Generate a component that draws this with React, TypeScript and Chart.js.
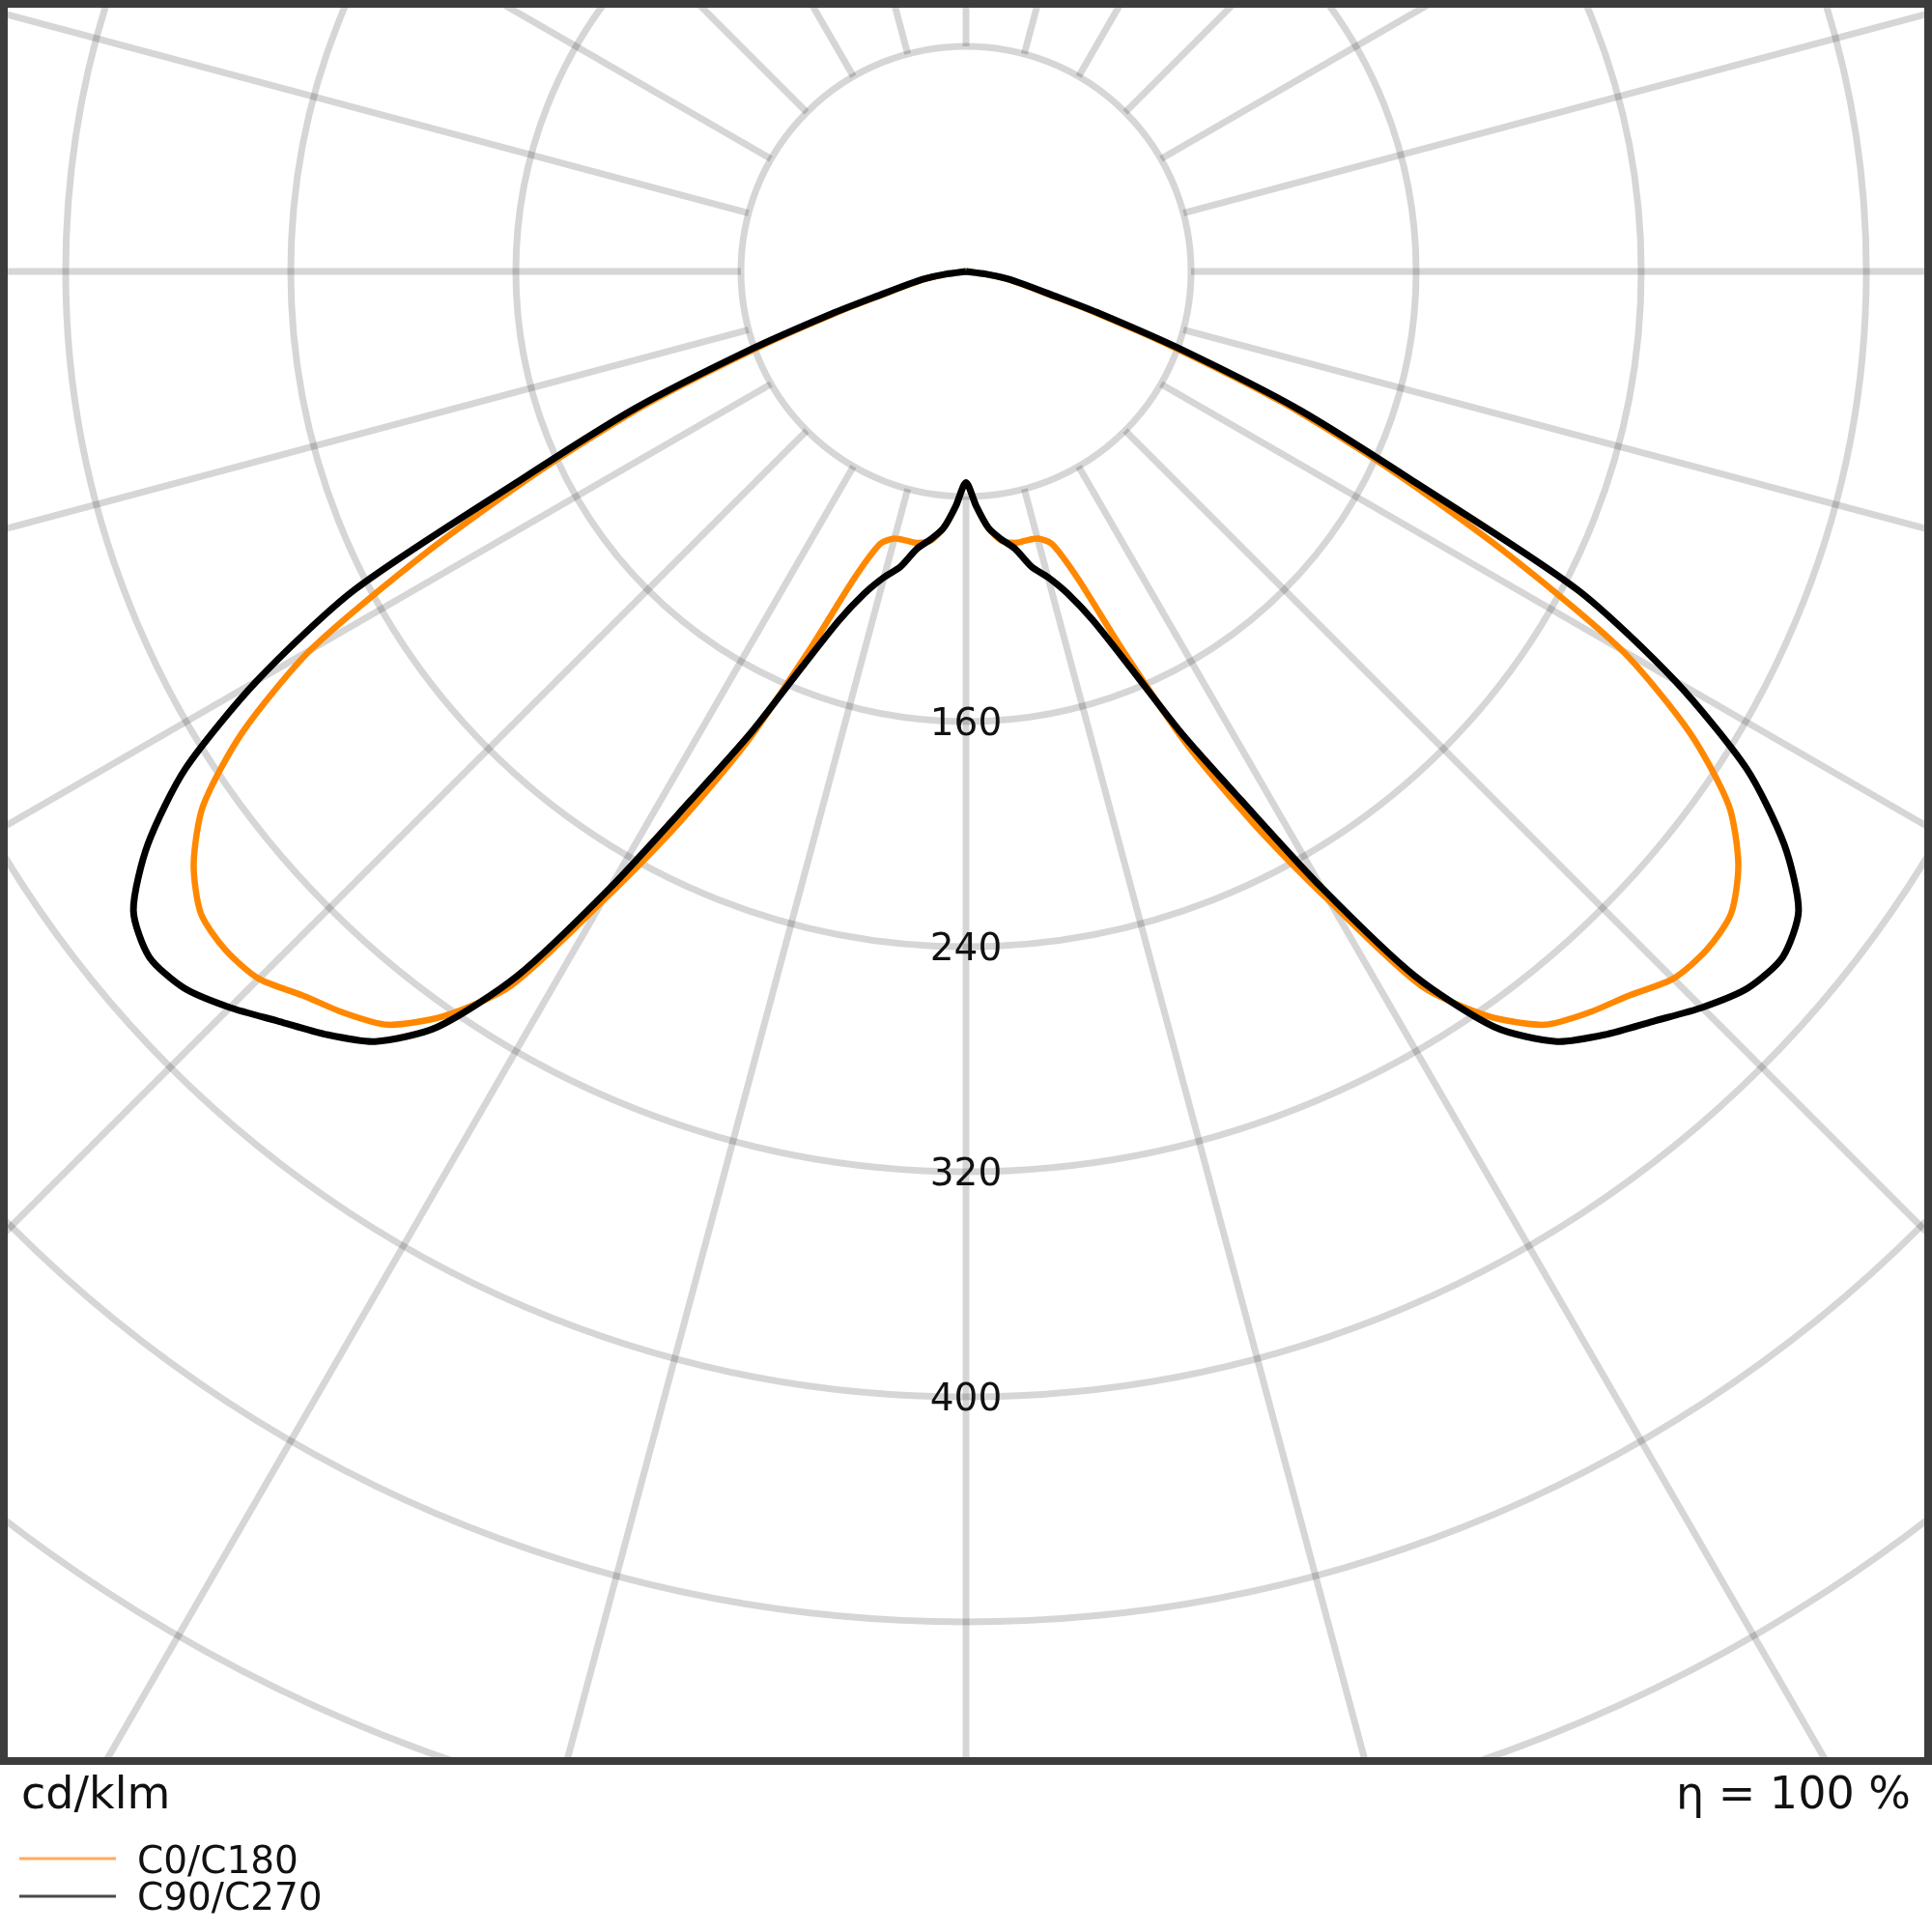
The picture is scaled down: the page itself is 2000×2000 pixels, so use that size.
import React, { useEffect, useRef } from 'react';
import { Chart, registerables } from 'chart.js';

Chart.register(...registerables);

// Gamma angles (degrees from nadir) for both C-planes
const gammaDeg = [
  0, 2.5, 5, 7.5, 10, 12.5, 15, 17.5, 20, 22.5, 25, 27.5, 30, 32.5, 35, 37.5, 40, 42.5, 45,
  47.5, 50, 52.5, 55, 57.5, 60, 62.5, 65, 67.5, 70, 72.5, 75, 77.5, 80, 82.5, 85, 87.5, 90,
];

// Luminous intensity, cd/klm
const c0c180Values = [
  75, 83.5, 91.5, 96.5, 98, 98, 98.3, 101.5, 116, 146, 185, 221, 258.5, 301, 323, 337.5, 344, 349, 355.5,
  357, 355, 346, 331, 305, 269, 216, 166, 122, 78, 47, 28, 19.5, 14, 6, 0, 0, 0,
];
const c90c270Values = [
  75, 83.5, 91.5, 96, 100, 107.5, 112.5, 120, 132, 152, 181, 212, 253, 297, 328, 345, 354, 361.5, 370,
  377, 379, 373, 355, 329, 291, 245, 173, 127.5, 82.5, 50, 30, 21, 15, 7, 0, 0, 0,
];

const seriesLabels = ['C0/C180', 'C90/C270'];
const seriesColors = ['#ff8800', '#000000'];
const legendLineColors = ['#ffaa5a', '#4a4a4a'];

const ringValues = [80, 160, 240, 320, 400, 480, 560, 640];
const ringLabelValues = [160, 240, 320, 400];
const spokeAnglesDeg = [0, 15, 30, 45, 60, 75, 90, 105, 120, 135, 150, 165, 180, 195, 210, 225, 240, 255, 270, 285, 300, 315, 330, 345];
const spokeOuterValue = 1000;

const unitLabel = 'cd/klm';
const efficiencyLabel = 'η = 100 %';

const xMin = -341.97;
const xMax = 341.97;
const yMin = -529.44;
const yMax = 95.11;

const FONT = '"DejaVu Sans", "Noto Sans", sans-serif';

function polarToXY(values: number[]) {
  const pts: { x: number; y: number }[] = [];
  for (let i = gammaDeg.length - 1; i >= 0; i--) {
    const t = (gammaDeg[i] * Math.PI) / 180;
    pts.push({ x: -values[i] * Math.sin(t), y: -values[i] * Math.cos(t) });
  }
  for (let i = 1; i < gammaDeg.length; i++) {
    const t = (gammaDeg[i] * Math.PI) / 180;
    pts.push({ x: values[i] * Math.sin(t), y: -values[i] * Math.cos(t) });
  }
  return pts;
}

const polarPlugin = {
  id: 'polarLdc',
  beforeDatasetsDraw(chart: any) {
    const { ctx, chartArea, scales } = chart;
    const xs = scales.x;
    const ys = scales.y;
    const cx = xs.getPixelForValue(0);
    const cy = ys.getPixelForValue(0);
    const k = xs.getPixelForValue(1) - cx;
    ctx.save();
    ctx.beginPath();
    ctx.rect(chartArea.left, chartArea.top, chartArea.right - chartArea.left, chartArea.bottom - chartArea.top);
    ctx.clip();
    ctx.strokeStyle = 'rgba(0,0,0,0.16)';
    ctx.lineWidth = 7;
    for (const r of ringValues) {
      ctx.beginPath();
      ctx.arc(cx, cy, r * k, 0, Math.PI * 2);
      ctx.stroke();
    }
    const r0 = ringValues[0];
    for (const a of spokeAnglesDeg) {
      const t = (a * Math.PI) / 180;
      ctx.beginPath();
      ctx.moveTo(xs.getPixelForValue(r0 * Math.sin(t)), ys.getPixelForValue(-r0 * Math.cos(t)));
      ctx.lineTo(
        xs.getPixelForValue(spokeOuterValue * Math.sin(t)),
        ys.getPixelForValue(-spokeOuterValue * Math.cos(t))
      );
      ctx.stroke();
    }
    ctx.restore();
  },
  afterDatasetsDraw(chart: any) {
    const { ctx, chartArea, scales } = chart;
    const xs = scales.x;
    const ys = scales.y;
    ctx.save();
    // ring labels
    ctx.fillStyle = '#111111';
    ctx.font = `39px ${FONT}`;
    ctx.textAlign = 'center';
    ctx.textBaseline = 'middle';
    for (const v of ringLabelValues) {
      ctx.fillText(String(v), xs.getPixelForValue(0), ys.getPixelForValue(-v) + 4);
    }
    // frame
    ctx.strokeStyle = '#3c3c3c';
    ctx.lineWidth = 8;
    ctx.strokeRect(chartArea.left, chartArea.top, chartArea.right - chartArea.left, chartArea.bottom - chartArea.top);
    // bottom texts
    ctx.fillStyle = '#111111';
    ctx.textBaseline = 'alphabetic';
    ctx.font = `46px ${FONT}`;
    ctx.textAlign = 'left';
    ctx.fillText(unitLabel, 22, 1872);
    ctx.textAlign = 'right';
    ctx.fillText(efficiencyLabel, 1978, 1872);
    // legend
    ctx.font = `39px ${FONT}`;
    ctx.textAlign = 'left';
    const lineYs = [1924, 1963];
    const textYs = [1939, 1977];
    for (let i = 0; i < seriesLabels.length; i++) {
      ctx.strokeStyle = legendLineColors[i];
      ctx.lineWidth = 3;
      ctx.beginPath();
      ctx.moveTo(20, lineYs[i]);
      ctx.lineTo(120, lineYs[i]);
      ctx.stroke();
      ctx.fillStyle = '#111111';
      ctx.fillText(seriesLabels[i], 142, textYs[i]);
    }
    ctx.restore();
  },
};

export default function App() {
  const canvasRef = useRef<HTMLCanvasElement | null>(null);

  useEffect(() => {
    if (!canvasRef.current) return;
    const chart = new Chart(canvasRef.current, {
      type: 'scatter',
      data: {
        datasets: [
          {
            label: seriesLabels[0],
            data: polarToXY(c0c180Values),
            showLine: true,
            borderColor: seriesColors[0],
            backgroundColor: seriesColors[0],
            borderWidth: 6.5,
            pointRadius: 0,
            tension: 0.25,
            fill: false,
            order: 2,
          },
          {
            label: seriesLabels[1],
            data: polarToXY(c90c270Values),
            showLine: true,
            borderColor: seriesColors[1],
            backgroundColor: seriesColors[1],
            borderWidth: 7,
            pointRadius: 0,
            tension: 0.25,
            fill: false,
            order: 1,
          },
        ],
      },
      options: {
        responsive: false,
        animation: false,
        devicePixelRatio: 1,
        layout: { padding: { left: 4, top: 4, right: 4, bottom: 177 } },
        scales: {
          x: { type: 'linear', min: xMin, max: xMax, display: false },
          y: { type: 'linear', min: yMin, max: yMax, display: false },
        },
        plugins: {
          legend: { display: false },
          tooltip: { enabled: false },
        },
      },
      plugins: [polarPlugin],
    });
    return () => chart.destroy();
  }, []);

  return (
    <div style={{ position: 'absolute', left: 0, top: 0, width: 2000, height: 2000, background: '#ffffff' }}>
      <canvas ref={canvasRef} width={2000} height={2000} style={{ display: 'block' }} />
    </div>
  );
}
